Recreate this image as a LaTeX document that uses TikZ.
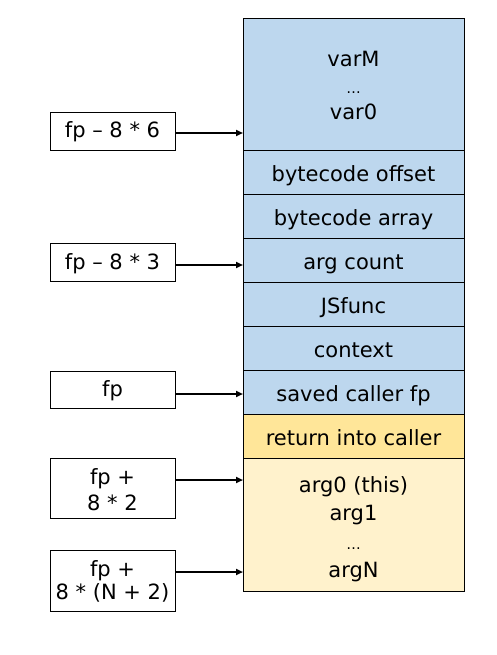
\documentclass[tikz,border=0pt]{standalone}
\usepackage{fontspec}
\setmainfont{DejaVu Sans}
\usetikzlibrary{arrows.meta}
\definecolor{blu}{HTML}{BDD7EE}
\definecolor{yel}{HTML}{FFE699}
\definecolor{lyel}{HTML}{FFF2CC}
\begin{document}
\begin{tikzpicture}[x=1pt,y=-1pt,
  box/.style={draw=black, line width=0.9pt, inner sep=0pt, minimum width=#1},
  cell/.style={box=221pt, minimum height=44pt},
  lbl/.style={box=125pt},
  txt/.style={anchor=base, inner sep=0pt, font=\fontsize{21}{26}\selectfont},
  dots/.style={anchor=base, inner sep=0pt, font=\fontsize{14.5}{16}\selectfont},
  ptr/.style={line width=1.8pt, -{Triangle[length=7pt,width=6pt]}}]
\useasboundingbox (0,0) rectangle (496,655);
% stack cells
\node[box=221pt, fill=blu, minimum height=132pt] (vars) at (353.5,84) {};
\node[cell, fill=blu] (bco) at (353.5,172) {};
\node[cell, fill=blu] (bca) at (353.5,216) {};
\node[cell, fill=blu] (argc) at (353.5,260) {};
\node[cell, fill=blu] (jsf) at (353.5,304) {};
\node[cell, fill=blu] (ctx) at (353.5,348) {};
\node[cell, fill=blu] (sfp) at (353.5,392) {};
\node[cell, fill=yel] (ret) at (353.5,436) {};
\node[box=221pt, fill=lyel, minimum height=133pt] (args) at (353.5,524.5) {};
% stack texts
\node[txt] (tvm) at (353.5,67) {varM};
\node[dots] (tvd) at (353.5,93.5) {…};
\node[txt] (tv0) at (353.5,120) {var0};
\node[txt] (tbco) at (353.5,181.5) {bytecode offset};
\node[txt] (tbca) at (353.5,225.5) {bytecode array};
\node[txt] (targc) at (353.5,269.5) {arg count};
\node[txt] (tjsf) at (353.5,313.5) {JSfunc};
\node[txt] (tctx) at (353.5,357.5) {context};
\node[txt] (tsfp) at (353.5,401.5) {saved caller fp};
\node[txt] (tret) at (353.5,445.5) {return into caller};
\node[txt] (ta0) at (353.5,492) {arg0 (this)};
\node[txt] (ta1) at (353.5,520.5) {arg1};
\node[dots] (tad) at (353.5,549) {…};
\node[txt] (taN) at (353.5,577) {argN};
% pointer label boxes
\node[lbl, minimum height=38pt] (l1) at (112.5,131) {};
\node[lbl, minimum height=38pt] (l2) at (112.5,262) {};
\node[lbl, minimum height=37pt] (l3) at (112.5,390) {};
\node[lbl, minimum height=60pt] (l4) at (112.5,488) {};
\node[lbl, minimum height=61pt] (l5) at (112.5,580.5) {};
% pointer label texts
\node[txt] (tl1) at (112.5,137.5) {fp – 8 * 6};
\node[txt] (tl2) at (112.5,269) {fp – 8 * 3};
\node[txt] (tl3) at (112.5,396.5) {fp};
\node[txt] (tl4a) at (112.5,484) {fp +};
\node[txt] (tl4b) at (112.5,510) {8 * 2};
\node[txt] (tl5a) at (112.5,576) {fp +};
\node[txt] (tl5b) at (112.5,599) {8 * (N + 2)};
% arrows
\coordinate (p1) at (243,133);
\coordinate (p2) at (243,265);
\coordinate (p3) at (243,394);
\coordinate (p4) at (243,480);
\coordinate (p5) at (243,572);
\draw[ptr] (l1.east |- p1) -- (p1);
\draw[ptr] (l2.east |- p2) -- (p2);
\draw[ptr] (l3.east |- p3) -- (p3);
\draw[ptr] (l4.east |- p4) -- (p4);
\draw[ptr] (l5.east |- p5) -- (p5);
\end{tikzpicture}
\end{document}
